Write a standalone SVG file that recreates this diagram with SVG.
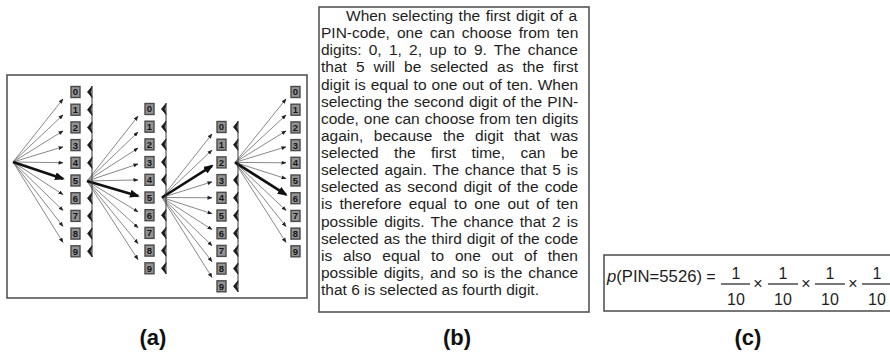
<svg xmlns="http://www.w3.org/2000/svg" width="890" height="354" viewBox="0 0 890 354">
<style>
.panel{fill:#fff;stroke:#555;stroke-width:1.6}
.dbox{fill:#939393;stroke:#4a4a4a;stroke-width:1.4}
.dtxt{font-family:"Liberation Sans",Arial,sans-serif;font-size:9.5px;font-weight:bold;fill:#151515;text-anchor:middle}
.thin{stroke:#7a7a7a;stroke-width:0.9;fill:none;marker-end:url(#ah)}
.bold{stroke:#111;stroke-width:2.6;fill:none;marker-end:url(#ahb)}
.vl{stroke:#333;stroke-width:1;fill:none}
.chev{fill:#1a1a1a;stroke:#1a1a1a;stroke-width:0.8;stroke-linejoin:round}
.body{font-family:"Liberation Sans",Arial,sans-serif;font-size:15.5px;fill:#1e1e1e}
.fx{font-family:"Liberation Sans",Arial,sans-serif;font-size:16px;fill:#1e1e1e}
.cap{font-family:"Liberation Sans",Arial,sans-serif;font-size:22px;font-weight:bold;fill:#111;text-anchor:middle}
</style>
<defs>
<marker id="ah" markerUnits="userSpaceOnUse" markerWidth="5" markerHeight="4" refX="4.5" refY="2" orient="auto"><path d="M0,0 L5,2 L0,4 z" fill="#222"/></marker>
<marker id="ahb" markerUnits="userSpaceOnUse" markerWidth="10" markerHeight="8" refX="8" refY="4" orient="auto"><path d="M0,0 L10,4 L0,8 z" fill="#111"/></marker>
<g id="dg">
<rect class="dbox" x="-4.5" y="-5.5" width="9" height="11"/>
</g>
<path id="cv" class="chev" d="M16.5,-5.5 L12,0 L16.5,5.5 L15.2,0 z"/>
</defs>

<g id="panel-a">
<rect class="panel" x="7" y="75" width="300" height="223"/>
</g>

<g id="connectors">
<path class="thin" d="M13,162 L63,99"/>
<path class="thin" d="M13,162 L63,114.9"/>
<path class="thin" d="M13,162 L63,130.9"/>
<path class="thin" d="M13,162 L63,146.8"/>
<path class="thin" d="M13,162 L63,162.7"/>
<path class="thin" d="M13,162 L63,194.6"/>
<path class="thin" d="M13,162 L63,210.5"/>
<path class="thin" d="M13,162 L63,226.4"/>
<path class="thin" d="M13,162 L63,242.4"/>
<path class="bold" d="M13,162 L63,178.7"/>

<path class="thin" d="M87,181 L138,116.2"/>
<path class="thin" d="M87,181 L138,132.1"/>
<path class="thin" d="M87,181 L138,148.1"/>
<path class="thin" d="M87,181 L138,164"/>
<path class="thin" d="M87,181 L138,179.9"/>
<path class="thin" d="M87,181 L138,211.8"/>
<path class="thin" d="M87,181 L138,227.7"/>
<path class="thin" d="M87,181 L138,243.6"/>
<path class="thin" d="M87,181 L138,259.6"/>
<path class="bold" d="M87,181 L138,195.9"/>

<path class="thin" d="M162,197.5 L212,134"/>
<path class="thin" d="M162,197.5 L212,150"/>
<path class="thin" d="M162,197.5 L212,181.8"/>
<path class="thin" d="M162,197.5 L212,197.8"/>
<path class="thin" d="M162,197.5 L212,213.7"/>
<path class="thin" d="M162,197.5 L212,229.6"/>
<path class="thin" d="M162,197.5 L212,245.6"/>
<path class="thin" d="M162,197.5 L212,261.5"/>
<path class="thin" d="M162,197.5 L212,277.4"/>
<path class="bold" d="M162,197.5 L212,165.9"/>

<path class="thin" d="M235,162.4 L286,99"/>
<path class="thin" d="M235,162.4 L286,115"/>
<path class="thin" d="M235,162.4 L286,130.9"/>
<path class="thin" d="M235,162.4 L286,146.8"/>
<path class="thin" d="M235,162.4 L286,162.8"/>
<path class="thin" d="M235,162.4 L286,178.7"/>
<path class="thin" d="M235,162.4 L286,210.5"/>
<path class="thin" d="M235,162.4 L286,226.5"/>
<path class="thin" d="M235,162.4 L286,242.4"/>
<path class="bold" d="M235,162.4 L286,194.6"/>
</g>

<g id="col1" transform="translate(75.5,92)">
<use href="#dg" y="0"/><text class="dtxt" y="3.4">0</text>
<use href="#dg" y="17.7"/><text class="dtxt" y="21.1">1</text>
<use href="#dg" y="35.4"/><text class="dtxt" y="38.8">2</text>
<use href="#dg" y="53.1"/><text class="dtxt" y="56.5">3</text>
<use href="#dg" y="70.8"/><text class="dtxt" y="74.2">4</text>
<use href="#dg" y="88.5"/><text class="dtxt" y="91.9">5</text>
<use href="#dg" y="106.2"/><text class="dtxt" y="109.6">6</text>
<use href="#dg" y="123.9"/><text class="dtxt" y="127.3">7</text>
<use href="#dg" y="141.6"/><text class="dtxt" y="145">8</text>
<use href="#dg" y="159.3"/><text class="dtxt" y="162.7">9</text>
<path class="vl" d="M16.5,-6 L16.5,165"/>
<use href="#cv" y="0"/><use href="#cv" y="17.7"/><use href="#cv" y="35.4"/><use href="#cv" y="53.1"/><use href="#cv" y="70.8"/><use href="#cv" y="106.2"/><use href="#cv" y="123.9"/><use href="#cv" y="141.6"/><use href="#cv" y="159.3"/>
</g>

<g id="col2" transform="translate(149.5,109)">
<use href="#dg" y="0"/><text class="dtxt" y="3.4">0</text>
<use href="#dg" y="17.7"/><text class="dtxt" y="21.1">1</text>
<use href="#dg" y="35.4"/><text class="dtxt" y="38.8">2</text>
<use href="#dg" y="53.1"/><text class="dtxt" y="56.5">3</text>
<use href="#dg" y="70.8"/><text class="dtxt" y="74.2">4</text>
<use href="#dg" y="88.5"/><text class="dtxt" y="91.9">5</text>
<use href="#dg" y="106.2"/><text class="dtxt" y="109.6">6</text>
<use href="#dg" y="123.9"/><text class="dtxt" y="127.3">7</text>
<use href="#dg" y="141.6"/><text class="dtxt" y="145">8</text>
<use href="#dg" y="159.3"/><text class="dtxt" y="162.7">9</text>
<path class="vl" d="M16.5,-6 L16.5,165"/>
<use href="#cv" y="0"/><use href="#cv" y="17.7"/><use href="#cv" y="35.4"/><use href="#cv" y="53.1"/><use href="#cv" y="70.8"/><use href="#cv" y="106.2"/><use href="#cv" y="123.9"/><use href="#cv" y="141.6"/><use href="#cv" y="159.3"/>
</g>

<g id="col3" transform="translate(221.5,127)">
<use href="#dg" y="0"/><text class="dtxt" y="3.4">0</text>
<use href="#dg" y="17.7"/><text class="dtxt" y="21.1">1</text>
<use href="#dg" y="35.4"/><text class="dtxt" y="38.8">2</text>
<use href="#dg" y="53.1"/><text class="dtxt" y="56.5">3</text>
<use href="#dg" y="70.8"/><text class="dtxt" y="74.2">4</text>
<use href="#dg" y="88.5"/><text class="dtxt" y="91.9">5</text>
<use href="#dg" y="106.2"/><text class="dtxt" y="109.6">6</text>
<use href="#dg" y="123.9"/><text class="dtxt" y="127.3">7</text>
<use href="#dg" y="141.6"/><text class="dtxt" y="145">8</text>
<use href="#dg" y="159.3"/><text class="dtxt" y="162.7">9</text>
<path class="vl" d="M16.5,-6 L16.5,165"/>
<use href="#cv" y="0"/><use href="#cv" y="17.7"/><use href="#cv" y="53.1"/><use href="#cv" y="70.8"/><use href="#cv" y="88.5"/><use href="#cv" y="106.2"/><use href="#cv" y="123.9"/><use href="#cv" y="141.6"/><use href="#cv" y="159.3"/>
</g>

<g id="col4" transform="translate(295.5,92)">
<use href="#dg" y="0"/><text class="dtxt" y="3.4">0</text>
<use href="#dg" y="17.7"/><text class="dtxt" y="21.1">1</text>
<use href="#dg" y="35.4"/><text class="dtxt" y="38.8">2</text>
<use href="#dg" y="53.1"/><text class="dtxt" y="56.5">3</text>
<use href="#dg" y="70.8"/><text class="dtxt" y="74.2">4</text>
<use href="#dg" y="88.5"/><text class="dtxt" y="91.9">5</text>
<use href="#dg" y="106.2"/><text class="dtxt" y="109.6">6</text>
<use href="#dg" y="123.9"/><text class="dtxt" y="127.3">7</text>
<use href="#dg" y="141.6"/><text class="dtxt" y="145">8</text>
<use href="#dg" y="159.3"/><text class="dtxt" y="162.7">9</text>
</g>

<g id="panel-b">
<rect class="panel" x="319" y="7" width="270" height="305"/>
<text class="body" x="346" y="21" word-spacing="1.17">When selecting the first digit of a</text>
<text class="body" x="321" y="38.1" word-spacing="2.7">PIN-code, one can choose from ten</text>
<text class="body" x="321" y="55.3" word-spacing="2.94">digits: 0, 1, 2, up to 9. The chance</text>
<text class="body" x="321" y="72.4" word-spacing="4.72">that 5 will be selected as the first</text>
<text class="body" x="321" y="89.5" word-spacing="0.7">digit is equal to one out of ten. When</text>
<text class="body" x="321" y="106.6" word-spacing="0.8">selecting the second digit of the PIN-</text>
<text class="body" x="321" y="123.8" word-spacing="0.65">code, one can choose from ten digits</text>
<text class="body" x="321" y="140.9" word-spacing="6.26">again, because the digit that was</text>
<text class="body" x="321" y="158" word-spacing="11.08">selected the first time, can be</text>
<text class="body" x="321" y="175.1" word-spacing="1.5">selected again. The chance that 5 is</text>
<text class="body" x="321" y="192.3" word-spacing="1.8">selected as second digit of the code</text>
<text class="body" x="321" y="209.4" word-spacing="3">is therefore equal to one out of ten</text>
<text class="body" x="321" y="226.5" word-spacing="1.95">possible digits. The chance that 2 is</text>
<text class="body" x="321" y="243.6" word-spacing="0.68">selected as the third digit of the code</text>
<text class="body" x="321" y="260.8" word-spacing="6.55">is also equal to one out of then</text>
<text class="body" x="321" y="277.9" word-spacing="1.5">possible digits, and so is the chance</text>
<text class="body" x="321" y="295">that 6 is selected as fourth digit.</text>
</g>

<g id="panel-c">
<rect class="panel" x="604" y="255" width="300" height="56"/>
<text class="fx" x="607" y="282" textLength="95" lengthAdjust="spacingAndGlyphs"><tspan font-style="italic">p</tspan>(PIN=5526)</text>
<text class="fx" x="711" y="282" text-anchor="middle">=</text>
<g id="frac1">
<text class="fx" x="736" y="279" text-anchor="middle">1</text>
<line x1="721" y1="284" x2="750" y2="284" stroke="#1e1e1e" stroke-width="1.2"/>
<text class="fx" x="736" y="305" text-anchor="middle">10</text>
</g>
<text class="fx" x="758" y="289" text-anchor="middle">×</text>
<g id="frac2">
<text class="fx" x="783" y="279" text-anchor="middle">1</text>
<line x1="768" y1="284" x2="798" y2="284" stroke="#1e1e1e" stroke-width="1.2"/>
<text class="fx" x="783" y="305" text-anchor="middle">10</text>
</g>
<text class="fx" x="806" y="289" text-anchor="middle">×</text>
<g id="frac3">
<text class="fx" x="830" y="279" text-anchor="middle">1</text>
<line x1="815" y1="284" x2="845" y2="284" stroke="#1e1e1e" stroke-width="1.2"/>
<text class="fx" x="830" y="305" text-anchor="middle">10</text>
</g>
<text class="fx" x="853" y="289" text-anchor="middle">×</text>
<g id="frac4">
<text class="fx" x="877" y="279" text-anchor="middle">1</text>
<line x1="862" y1="284" x2="892" y2="284" stroke="#1e1e1e" stroke-width="1.2"/>
<text class="fx" x="877" y="305" text-anchor="middle">10</text>
</g>
</g>

<g id="captions">
<text class="cap" x="153" y="345">(a)</text>
<text class="cap" x="457" y="345">(b)</text>
<text class="cap" x="748" y="345">(c)</text>
</g>
</svg>
